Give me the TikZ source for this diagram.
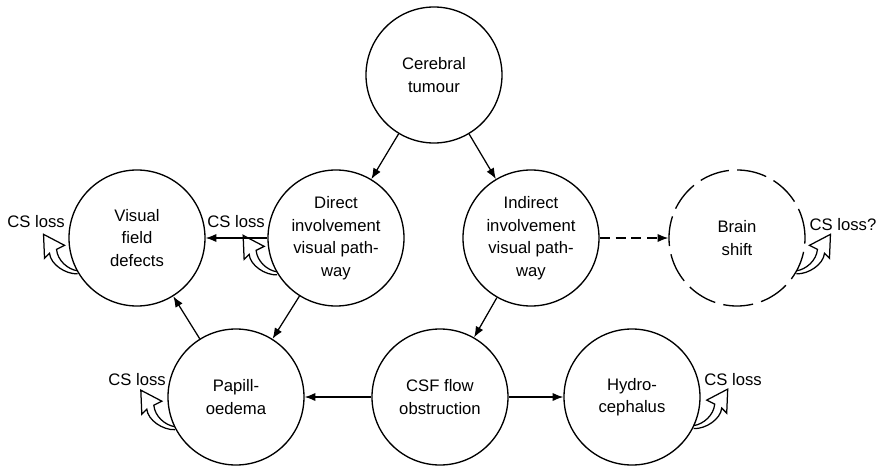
\documentclass[tikz,border=0pt]{standalone}
\usepackage{fontspec}
\setmainfont{Liberation Sans}
\usetikzlibrary{arrows.meta}
\usetikzlibrary{positioning}

\begin{document}
\begin{tikzpicture}
    [st/.style={circle, draw, line width=0.8pt, minimum size=81.6pt, inner sep=0pt, align=center, font=\fontsize{10}{13.5}\selectfont},
     lbl/.style={font=\fontsize{10}{12}\selectfont, inner sep=1pt},
     ar/.style={-{Latex[length=6.5pt, width=5pt]}, line width=0.75pt},
     csarrow/.pic={
        \draw [x=0.6pt, y=0.6pt, line width=0.75pt]
            (0,1.5) .. controls (-10,3) and (-20,12) .. (-21,23) -- (-13,27) -- (-34,38)
            -- (-33,14) -- (-28,19) .. controls (-27,8) and (-12,-2) .. (0,-1.5);
     },
     on grid]

    \useasboundingbox (-260.4pt,45pt) rectangle (269.4pt,-235.8pt);

    \node [st] (tumour) {Cerebral\\tumour};
    \node [st, below left=97.8pt and 58.8pt of tumour] (direct) {Direct\\involvement\\visual path-\\way};
    \node [st, below right=97.8pt and 58.2pt of tumour] (indirect) {Indirect\\involvement\\visual path-\\way};
    \node [st, left=119.4pt of direct] (visual) {Visual\\field\\defects};
    \node [st, right=123.6pt of indirect, dash pattern=on 18pt off 5pt] (brain) {Brain\\shift};
    \node [st, below left=95.4pt and 54.6pt of indirect] (csf) {CSF flow\\obstruction};
    \node [st, left=122.4pt of csf] (papill) {Papill-\\oedema};
    \node [st, right=115.2pt of csf] (hydro) {Hydro-\\cephalus};

    \draw [ar] (tumour) -- (direct);
    \draw [ar] (tumour) -- (indirect);
    \draw [ar] (direct) -- (visual);
    \draw [ar, dash pattern=on 6pt off 3.5pt] (indirect) -- (brain);
    \draw [ar] (direct) -- (papill);
    \draw [ar] (indirect) -- (csf);
    \draw [ar] (papill) -- (visual);
    \draw [ar] (csf) -- (papill);
    \draw [ar] (csf) -- (hydro);

    \node [lbl, above left=9.6pt and 60.6pt of visual] (lvisual) {CS loss};
    \node [lbl, above left=9.6pt and 60pt of direct] (ldirect) {CS loss};
    \node [lbl, above right=7.8pt and 63.6pt of brain] (lbrain) {CS loss?};
    \node [lbl, above left=10.2pt and 59.4pt of papill] (lpapill) {CS loss};
    \node [lbl, above right=10.2pt and 60.6pt of hydro] (lhydro) {CS loss};

    \pic at (visual.210) {csarrow};
    \pic at (direct.211) {csarrow};
    \pic at (papill.207) {csarrow};
    \pic [xscale=-1] at (brain.330) {csarrow};
    \pic [xscale=-1] at (hydro.334) {csarrow};
\end{tikzpicture}
\end{document}
